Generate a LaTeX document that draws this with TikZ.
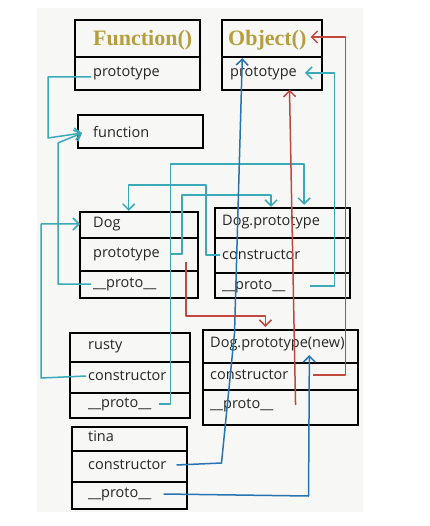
\documentclass[tikz,border=0pt]{standalone}
\usepackage{fontspec}
\setmainfont{Open Sans}
\newfontfamily\headfont{Liberation Serif}
\usetikzlibrary{arrows.meta}
\definecolor{jsteal}{RGB}{58,170,184}
\definecolor{jsblue}{RGB}{38,116,178}
\definecolor{jsred}{RGB}{194,72,62}
\definecolor{jsgold}{RGB}{181,158,62}
\definecolor{paper}{RGB}{247,247,245}
\tikzset{
boxframe/.style={
draw=black,
line width=2pt,
line cap=round
},
fieldtext/.style={
anchor=west,
inner sep=2pt,
text=black!85,
font=\fontsize{14.5}{16}\selectfont
},
headtext/.style={
anchor=west,
inner sep=2pt,
text=jsgold,
font=\headfont\bfseries\fontsize{22}{24}\selectfont
},
link/.style={
-{Straight Barb[length=6pt,width=12pt]},
line width=1.5pt,
line join=round
},
teallink/.style={link,draw=jsteal},
bluelink/.style={link,draw=jsblue},
redlink/.style={link,draw=jsred}
}
\begin{document}
\begin{tikzpicture}[x=1pt,y=-1pt]
\useasboundingbox (0,0) rectangle (429,526);
\fill[paper] (37,8) rectangle (363,512);

% boxes
\draw[boxframe] (75,20) rectangle (200,90) (75,57) -- (200,57);
\draw[boxframe] (222,20) rectangle (322,90) (222,57) -- (322,57);
\draw[boxframe] (78,115) rectangle (203,148);
\draw[boxframe] (80,212) rectangle (198,298) (80,238) -- (198,238) (80,271) -- (198,271);
\draw[boxframe] (215,208) rectangle (350,298) (215,238) -- (350,238) (215,273) -- (350,273);
\draw[boxframe] (70,333) rectangle (190,418) (70,362) -- (190,362) (70,393) -- (190,393);
\draw[boxframe] (203,330) rectangle (358,425) (203,363) -- (358,363) (203,390) -- (358,390);
\draw[boxframe] (72,427) rectangle (187,509) (72,451) -- (187,451) (72,482) -- (187,482);

% texts
\node[headtext] (fnt) at (91,40) {Function()};
\node[fieldtext] (fnp) at (91,73) {prototype};
\node[headtext] (objt) at (226,40) {Object()};
\node[fieldtext] (objp) at (228,73) {prototype};
\node[fieldtext] (fnc) at (91,132) {function};
\node[fieldtext] (dogt) at (91,224) {Dog};
\node[fieldtext] (dogp) at (91,254) {prototype};
\node[fieldtext] (dogpp) at (91,284) {\_\_proto\_\_};
\node[fieldtext] (dpt) at (220,222) {Dog.prototype};
\node[fieldtext] (dpc) at (220,255) {constructor};
\node[fieldtext] (dppp) at (220,286) {\_\_proto\_\_};
\node[fieldtext] (rt) at (86,346) {rusty};
\node[fieldtext] (rc) at (86,376) {constructor};
\node[fieldtext] (rpp) at (86,404) {\_\_proto\_\_};
\node[fieldtext] (dnt) at (208,344) {Dog.prototype(new)};
\node[fieldtext] (dnc) at (208,375) {constructor};
\node[fieldtext] (dnpp) at (208,405) {\_\_proto\_\_};
\node[fieldtext] (tt) at (86,436) {tina};
\node[fieldtext] (tc) at (86,465) {constructor};
\node[fieldtext] (tpp) at (86,494) {\_\_proto\_\_};

% teal links
\draw[teallink] ([yshift=-4pt]fnp.west) -- ++(-43,0) -- ++(0,61) -- ([xshift=-9pt,yshift=-1pt]fnc.west);
\draw[teallink] (dogpp.west) -- ++(-33,0) -- ++(0,-141) -- ([xshift=-9pt,yshift=-1pt]fnc.west);
\draw[teallink] (rc.west) -- ++(-45,2) |- ([xshift=-11pt]dogt.west);
\draw[teallink] ([xshift=8pt]dogp.east) -- ++(12,0) -- ++(0,-59) -| ([yshift=6pt]dpt.north);
\draw[teallink] (dpc.west) -- ++(-14,0) -- ++(0,-70) -| ([xshift=6pt,yshift=4pt]dogt.north east);
\draw[teallink] ([xshift=5pt]rpp.east) -- ++(12,0) -- ++(0,-240) -| ([xshift=-18pt,yshift=8pt]dpt.north east);
\draw[teallink] ([xshift=22pt]dppp.east) -- ++(25,0) |- ([xshift=6pt]objp.east);

% blue links
\draw[bluelink] ([xshift=8pt]tc.east) -- ++(45,-2) -- ++(13,-130) -- ([xshift=-25pt,yshift=-6pt]objt.south);
\draw[bluelink] ([xshift=10pt]tpp.east) -- ++(145,2) -- ([xshift=32pt,yshift=-2pt]dnt.south);

% red links
\draw[redlink] ([xshift=24pt,yshift=-8pt]dogp.east) -- ++(0,54) -| ([xshift=-12pt,yshift=8pt]dnt.north);
\draw[redlink] ([xshift=22pt]dnc.east) -- ++(33,0) |- ([xshift=2pt,yshift=3pt]objt.east);
\draw[redlink] ([xshift=20pt]dnpp.east) -- ([xshift=26pt,yshift=-8pt]objp.south);
\end{tikzpicture}
\end{document}
